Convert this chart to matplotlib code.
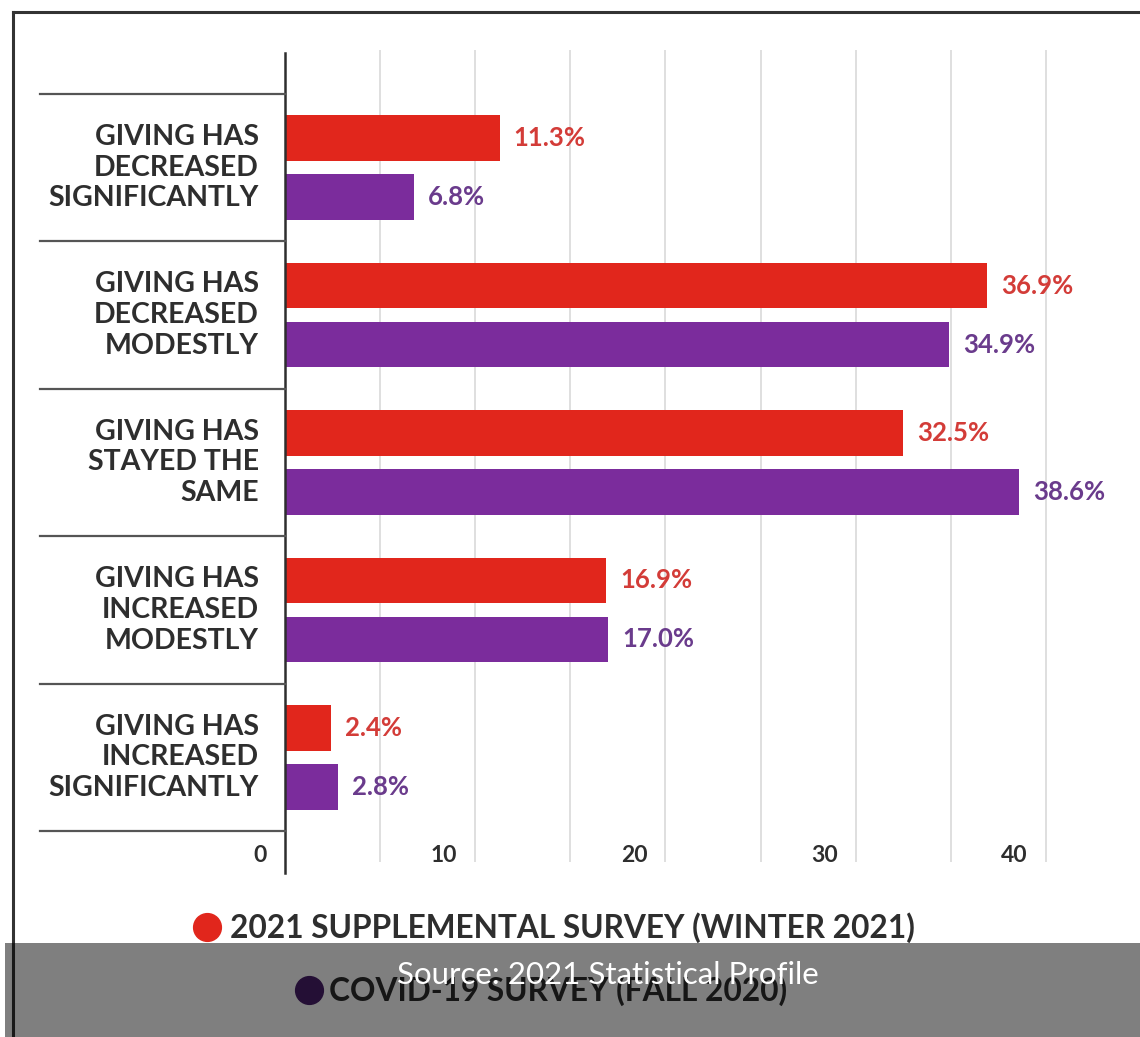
import numpy as np
import matplotlib.pyplot as plt
from matplotlib.lines import Line2D
from matplotlib.patches import Rectangle
from matplotlib.transforms import blended_transform_factory, offset_copy

plt.rcParams['font.family'] = ['Lato', 'DejaVu Sans']

categories = [
    'GIVING HAS\nDECREASED\nSIGNIFICANTLY',
    'GIVING HAS\nDECREASED\nMODESTLY',
    'GIVING HAS\nSTAYED THE\nSAME',
    'GIVING HAS\nINCREASED\nMODESTLY',
    'GIVING HAS\nINCREASED\nSIGNIFICANTLY',
]
winter_2021 = [11.3, 36.9, 32.5, 16.9, 2.4]
fall_2020 = [6.8, 34.9, 38.6, 17.0, 2.8]
series_names = ['2021 SUPPLEMENTAL SURVEY (WINTER 2021)', 'COVID-19 SURVEY (FALL 2020)']
tick_values = [0, 10, 20, 30, 40]

RED = '#e1261c'
PURPLE = '#7b2c9c'
RED_TXT = '#d33c38'
PURPLE_TXT = '#6a3b8c'
DARK = '#2e2e2e'

W, H = 1140, 1037


def fx(x):
    return x / W


def fy(y):
    return 1 - y / H


fig = plt.figure(figsize=(W / 100, H / 100), dpi=100)
fig.patch.set_facecolor('white')

# plot area: value 0 sits at x=285 px, 19.02 px per percent
ax = fig.add_axes([fx(285), fy(862), (W - 285) / W, (862 - 50) / H])
ax.set_xlim(0, (W - 285) / 19.02)
spacing = (831 - 94) / 5
ax.set_ylim((862 - 167.7) / spacing, (50 - 167.7) / spacing)
ax.axis('off')

for g in np.arange(5, 45, 5):
    ax.axvline(g, color='#dcdcdc', lw=1.3, zorder=0)

y = np.arange(len(categories))
off = 0.2
bh = 0.31
ax.barh(y - off, winter_2021, height=bh, color=RED, zorder=2)
ax.barh(y + off, fall_2020, height=bh, color=PURPLE, zorder=2)

for yi, v in zip(y, winter_2021):
    ax.annotate(f'{v:.1f}%', (v, yi - off), xytext=(10, 0), textcoords='offset points',
                ha='left', va='center', fontsize=18.5, fontweight='bold', color=RED_TXT)
for yi, v in zip(y, fall_2020):
    ax.annotate(f'{v:.1f}%', (v, yi + off), xytext=(10, 0), textcoords='offset points',
                ha='left', va='center', fontsize=18.5, fontweight='bold', color=PURPLE_TXT)

# vertical axis line
fig.add_artist(Line2D([fx(285), fx(285)], [fy(53), fy(873)], color=DARK, lw=1.8))

# category separators and labels on the left
tr = blended_transform_factory(fig.transFigure, ax.transData)
for b in np.arange(-0.5, len(categories), 1.0):
    fig.add_artist(Line2D([fx(40), fx(285)], [b, b], transform=tr, color='#555555', lw=1.6))
for yi, lab in zip(y, categories):
    fig.text(fx(259), yi, lab, transform=tr, ha='right', va='center', fontsize=20.5,
             fontweight='bold', color=DARK, linespacing=1.22)

# tick labels sit to the left of each gridline
tick_tr = offset_copy(blended_transform_factory(ax.transData, fig.transFigure), fig=fig, x=-13, y=0, units='points')
for t in tick_values:
    fig.text(t, fy(855), str(t), transform=tick_tr, ha='right', va='center',
             fontsize=16.5, fontweight='bold', color=DARK)

# legend
fig.add_artist(Line2D([fx(207)], [fy(927)], marker='o', markersize=20, color=RED, lw=0))
fig.text(fx(230), fy(928), series_names[0], ha='left', va='center', fontsize=22.8,
         fontweight='bold', color=DARK)
fig.add_artist(Line2D([fx(309)], [fy(990)], marker='o', markersize=20, color='#4a1f6b', lw=0))
fig.text(fx(329), fy(991), series_names[1], ha='left', va='center', fontsize=22.8,
         fontweight='bold', color=DARK)

# frame lines
fig.add_artist(Line2D([fx(13), 1], [fy(12), fy(12)], color='#333333', lw=2.2))
fig.add_artist(Line2D([fx(13), fx(13)], [fy(12), 0], color='#333333', lw=2.2))

# source banner
fig.add_artist(Rectangle((fx(5), 0), 1, fy(943), transform=fig.transFigure,
                         facecolor='black', alpha=0.5, edgecolor='none', zorder=10))
fig.text(fx(608), fy(975), 'Source: 2021 Statistical Profile', ha='center', va='center',
         fontsize=22.5, color='white', zorder=11)

fig.savefig('out.png', dpi=100)
